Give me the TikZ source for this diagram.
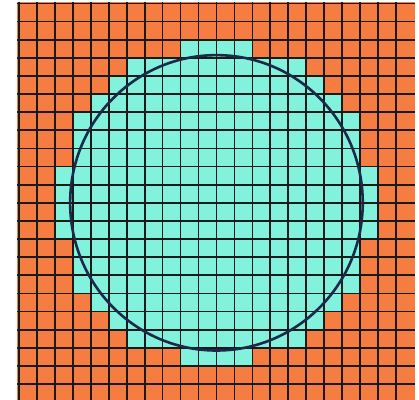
\documentclass[tikz,border=0pt]{standalone}
\usepackage{xcolor}
\usepackage{tikz}
\definecolor{cellorange}{HTML}{F57D41}
\definecolor{cellcyan}{HTML}{82F2DC}
\definecolor{gridblack}{HTML}{1A1A1A}
\definecolor{circlenavy}{HTML}{1B2A4A}
\tikzset{
  outside/.style={fill=cellorange},
  inside/.style={fill=cellcyan},
  gridline/.style={gridblack,line width=1.7pt},
  boundary/.style={circlenavy,line width=2.6pt}
}

\begin{document}
\begin{tikzpicture}[x=17.95pt,y=-18.12pt]
\useasboundingbox (-1.0585,-0.193) rectangle (22.284,21.88);
\fill[outside] (-0.11,-0.08) rectangle (22.06,21.88);
\foreach \r/\h in {2/2,3/5,4/6,5/7,6/8,7/8,8/8,9/9,10/9,11/9,12/9,13/8,14/8,15/8,16/7,17/6,18/5,19/2}
  \fill[inside] (11-\h,\r) rectangle (11+\h,\r+1);
\foreach \i in {0,...,21}
  \draw[gridline] (\i,-0.08) -- (\i,21.88);
\foreach \j in {0,...,21}
  \draw[gridline] (-0.11,\j) -- (22.06,\j);
\draw[boundary] (11,11) circle [radius=8.15];
\end{tikzpicture}
\end{document}
